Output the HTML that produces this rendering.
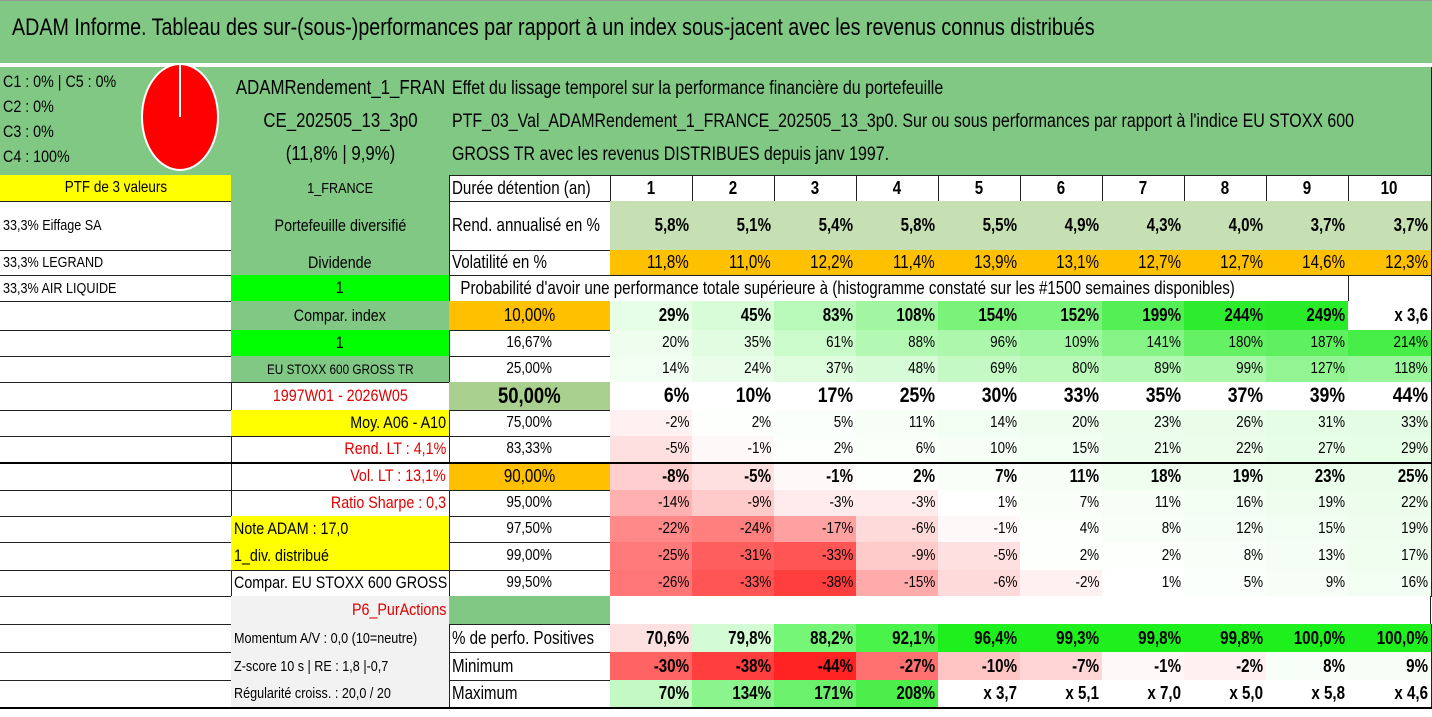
<!DOCTYPE html>
<html><head><meta charset="utf-8"><style>
body{margin:0;width:1432px;height:717px;background:#fff;position:relative;overflow:hidden;font-family:"Liberation Sans Narrow","Liberation Sans",sans-serif;color:#000}
.c{position:absolute;box-sizing:border-box;border-right:1px solid #222;border-bottom:1px solid #222;display:flex;align-items:center;padding:0 3px;white-space:nowrap;overflow:hidden;font-size:15px}
.c>span{display:inline-block;transform:scaleX(.84);transform-origin:left center}
.r{justify-content:flex-end}.r>span{transform-origin:right center}
.m{justify-content:center}.m>span{transform-origin:center center}
.b{font-weight:bold}
</style></head><body>
<div style="position:absolute;left:0;top:0;width:1432px;height:62px;background:#80c883;border-top:1px solid #999"></div>
<div style="position:absolute;left:12px;top:14px;font-size:24px;white-space:nowrap;transform:scaleX(.82);transform-origin:left center">ADAM Informe. Tableau des sur-(sous-)performances par rapport à un index sous-jacent avec les revenus connus distribués</div>
<div id="grid"></div>
<svg style="position:absolute;left:138px;top:62px" width="84" height="112"><ellipse cx="42" cy="55" rx="38" ry="53" fill="#f00" stroke="#fff" stroke-width="2"/><line x1="42" y1="55" x2="42" y2="3" stroke="#fff" stroke-width="2"/></svg>
<div style="position:absolute;left:0;top:462px;width:1432px;height:2px;background:#000"></div>
<div style="position:absolute;left:0;top:707px;width:1432px;height:2px;background:#000"></div>
<script>
const years=["1","2","3","4","5","6","7","8","9","10"];
const rendAnnualise=[5.8,5.1,5.4,5.8,5.5,4.9,4.3,4.0,3.7,3.7];
const volatilite=[11.8,11.0,12.2,11.4,13.9,13.1,12.7,12.7,14.6,12.3];
const percentiles=["10,00%","16,67%","25,00%","50,00%","75,00%","83,33%","90,00%","95,00%","97,50%","99,00%","99,50%"];
const p10=[29,45,83,108,154,152,199,244,249,360];
const p1667=[20,35,61,88,96,109,141,180,187,214];
const p25=[14,24,37,48,69,80,89,99,127,118];
const p50=[6,10,17,25,30,33,35,37,39,44];
const p75=[-2,2,5,11,14,20,23,26,31,33];
const p8333=[-5,-1,2,6,10,15,21,22,27,29];
const p90=[-8,-5,-1,2,7,11,18,19,23,25];
const p95=[-14,-9,-3,-3,1,7,11,16,19,22];
const p975=[-22,-24,-17,-6,-1,4,8,12,15,19];
const p99=[-25,-31,-33,-9,-5,2,2,8,13,17];
const p995=[-26,-33,-38,-15,-6,-2,1,5,9,16];
const pctPositive=[70.6,79.8,88.2,92.1,96.4,99.3,99.8,99.8,100.0,100.0];
const minimum=[-30,-38,-44,-27,-10,-7,-1,-2,8,9];
const maximum=[70,134,171,208,370,510,700,500,580,460];

const G=document.getElementById('grid');
const rowTops=[68,176,202,251,276,302,331,357,383,411,437,463,491,517,543,571,597,625,653,681,708];
const colX=[0,231,449,610,692,774,856,938,1020,1102,1184,1266,1348,1431];
function cell(x0,x1,r0,r1,txt,cls,bg,extra,name){
 const d=document.createElement('div');
 d.className='c '+(cls||'');
 d.style.left=x0+'px';d.style.width=(x1-x0+1)+'px';
 d.style.top=(rowTops[r0]-1)+'px';d.style.height=(rowTops[r1]-rowTops[r0]+1)+'px';
 if(bg)d.style.background=bg;
 if(extra)d.style.cssText+=extra;
 d.innerHTML='<span>'+txt+'</span>';
 
 
 G.appendChild(d);return d;
}
const GR='#80c883',Y='#ffff00',OR='#ffc000',LG='#00ff00',GY='#f2f2f2',RED='color:#e00000';
function fmt(v,d){return v.toFixed(d).replace('.',',');}
function mix(c,t){t=Math.max(0,Math.min(1,t));const r=Math.round(255+(c[0]-255)*t),g=Math.round(255+(c[1]-255)*t),b=Math.round(255+(c[2]-255)*t);return `rgb(${r},${g},${b})`;}
function heat(v){return v>=0?mix([40,235,40],Math.pow(v/250,1.0)):mix([255,30,30],Math.pow(-v/45,0.9));}
function pctLabel(v){return v>=300?'x '+fmt(v/100,1):v+'%';}

cell(0,231,0,1,'<div style="line-height:25px;font-size:17px">C1 : 0% | C5 : 0%<br>C2 : 0%<br>C3 : 0%<br>C4 : 100%</div>','',GR,'align-items:flex-start;padding-top:2px','allocation-classes');
cell(0,231,1,2,'PTF de 3 valeurs','m',Y,'font-size:16px','portfolio-count');
cell(0,231,2,3,'33,3% Eiffage SA','','',"font-size:15px",'holding-eiffage');
cell(0,231,3,4,'33,3% LEGRAND','','',"font-size:15px",'holding-legrand');
cell(0,231,4,5,'33,3% AIR LIQUIDE','','',"font-size:15px",'holding-air-liquide');
for(let r=5;r<20;r++)cell(0,231,r,r+1,'','','',"",'empty-cell');
cell(231,449,0,1,'<div style="text-align:center;line-height:33px;font-size:20px">ADAMRendement_1_FRAN<br>CE_202505_13_3p0<br>(11,8% | 9,9%)</div>','m',GR,'','portfolio-name');
const colB=[['1_FRANCE','m',GR,'font-size:15px'],['Portefeuille diversifié','m',GR,'font-size:17px'],['Dividende','m',GR,'font-size:17px'],['1','m',LG,'font-size:17px'],['Compar. index','m',GR,'font-size:17px'],['1','m',LG,'font-size:17px'],['EU STOXX 600 GROSS TR','m',GR,'font-size:14px'],['1997W01 - 2026W05','m','','font-size:17px;'+RED],['Moy. A06 - A10','r',Y,'font-size:17px'],['Rend. LT : 4,1%','r','','font-size:17px;'+RED],['Vol. LT : 13,1%','r','','font-size:17px;'+RED],['Ratio Sharpe : 0,3','r','','font-size:17px;'+RED],['Note ADAM : 17,0','',Y,'font-size:17px'],['1_div. distribué','',Y,'font-size:17px'],['Compar. EU STOXX 600 GROSS TR','','','font-size:17px'],['P6_PurActions','r',GY,'font-size:17px;'+RED],['Momentum A/V : 0,0 (10=neutre)','',GY,'font-size:15px'],['Z-score 10 s | RE : 1,8 |-0,7','',GY,'font-size:15px'],['Régularité croiss. : 20,0 / 20','',GY,'font-size:15px']];
colB.forEach((c,i)=>cell(231,449,i+1,i+2,c[0],c[1],c[2],c[3],'info-cell'));
cell(449,1431,0,1,'<div style="line-height:33px;font-size:19px">Effet du lissage temporel sur la performance financière du portefeuille<br>PTF_03_Val_ADAMRendement_1_FRANCE_202505_13_3p0. Sur ou sous performances par rapport à l\'indice EU STOXX 600<br>GROSS TR avec les revenus DISTRIBUES depuis janv 1997.</div>','',GR,'','table-description');
cell(449,610,1,2,'Durée détention (an)','','','font-size:18px','duration-label');
cell(449,610,2,3,'Rend. annualisé en %','','','font-size:18px','return-label');
cell(449,610,3,4,'Volatilité en %','','','font-size:18px','volatility-label');
cell(449,1348,4,5,'&nbsp;&nbsp;Probabilité d\'avoir une performance totale supérieure à (histogramme constaté sur les #1500 semaines disponibles)','','','font-size:18px','probability-label');
cell(1348,1431,4,5,'','','','','empty-cell');
years.forEach((y,i)=>{
 cell(colX[i+3],colX[i+4],1,2,y,'m b','','font-size:18px','year-header');
 cell(colX[i+3],colX[i+4],2,3,fmt(rendAnnualise[i],1)+'%','r b','#c6e0b4','font-size:18px','return-value');
 cell(colX[i+3],colX[i+4],3,4,fmt(volatilite[i],1)+'%','r',OR,'font-size:18px','volatility-value');
});
const mat=[p10,p1667,p25,p50,p75,p8333,p90,p95,p975,p99,p995];
const bold=[0,3,6];
percentiles.forEach((p,k)=>{
 let bg='',ex='font-size:16px';
 if(k==0||k==6){bg=OR;ex='font-size:18px';}
 if(k==3){bg='#a9d08e';ex='font-size:22px';}
 cell(449,610,5+k,6+k,p,'m'+(k==3?' b':''),bg,ex,'percentile-label');
 mat[k].forEach((v,i)=>{
  const bgc=(k==3||v>=300)?'#fff':heat(v);
  cell(colX[i+3],colX[i+4],5+k,6+k,pctLabel(v),'r'+(bold.includes(k)?' b':''),bgc,k==3?'font-size:21px':(bold.includes(k)?'font-size:18px':'font-size:16px'),'heat-cell');
 });
});
cell(449,610,16,17,'','',GR,'','empty-cell');
const d=document.createElement('div');d.style.cssText='position:absolute;left:610px;top:596px;width:821px;height:29px;background:#fff;border-bottom:1px solid #222;border-right:1px solid #222;box-sizing:border-box';


G.appendChild(d);
cell(449,610,17,18,'% de perfo. Positives','','','font-size:18px','positive-label');
cell(449,610,18,19,'Minimum','','','font-size:18px','minimum-label');
cell(449,610,19,20,'Maximum','','','font-size:18px','maximum-label');
pctPositive.forEach((v,i)=>{
 const bg=v<75?'#fde0e0':mix([30,240,30],(v-76)/20);
 cell(colX[i+3],colX[i+4],17,18,fmt(v,1)+'%','r b',bg,'font-size:18px','positive-value');
});
minimum.forEach((v,i)=>cell(colX[i+3],colX[i+4],18,19,v+'%','r b',heat(v),'font-size:18px','minimum-value'));
maximum.forEach((v,i)=>cell(colX[i+3],colX[i+4],19,20,pctLabel(v),'r b',v>=300?'#fff':heat(v),'font-size:18px','maximum-value'));
</script>
</body></html>
